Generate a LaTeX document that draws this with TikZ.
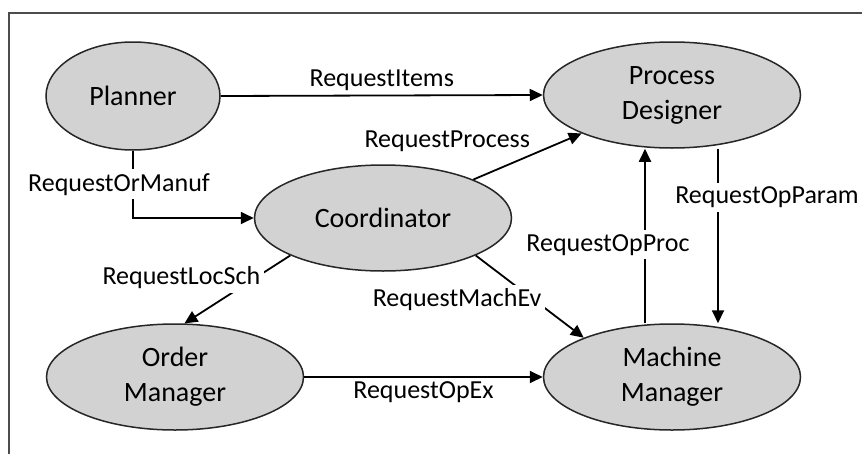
\documentclass[tikz,border=0pt]{standalone}
\usepackage{fontspec}
\setmainfont{Carlito}
\usetikzlibrary{arrows.meta,shapes.geometric}

\tikzset{
  agent/.style={ellipse, draw=black!85, fill=gray!35, line width=1.5pt,
    minimum width=257pt, minimum height=106pt, inner sep=0pt, align=center,
    font=\fontsize{28}{35}\selectfont},
  msg/.style={font=\fontsize{26}{30}\selectfont, inner sep=4pt},
  cut/.style={msg, fill=white},
  link/.style={line width=1.8pt, -{Triangle[length=13pt,width=12pt]}}
}

\begin{document}
\begin{tikzpicture}[x=1pt,y=-1pt]
        \useasboundingbox (0,0) rectangle (862,455);
        \draw[line width=1.6pt, black!70] (9,454) -- (9,13) -- (862,13);
        \node[agent, minimum width=174pt, minimum height=108pt] (planner) at (133,96) {Planner};
        \node[agent] (designer) at (672,95) {Process\\Designer};
        \node[agent] (coord) at (383,218) {Coordinator};
        \node[agent] (order) at (175,377) {Order\\Manager};
        \node[agent] (machine) at (672,377) {Machine\\Manager};
        \draw[link] (planner.east) -- (designer.west) node[msg, midway, above=0pt] {RequestItems};
        \draw[link] (planner.south) |- (coord.west) node[cut, pos=0.25, xshift=-14pt] {RequestOrManuf};
        \draw[link] (coord) -- (designer) node[msg, pos=0.55, above left=-2pt] {RequestProcess};
        \draw[link] ([xshift=46pt]designer.south) -- ([xshift=46pt]machine.north) node[cut, pos=0.28, xshift=49pt, inner xsep=1pt] {RequestOpParam};
        \draw[link] ([xshift=-27pt]machine.north) -- ([xshift=-27pt]designer.south) node[cut, pos=0.45, xshift=-37pt] {RequestOpProc};
        \draw[link] (coord.-22) -- (machine.156) node[cut, pos=0.54, xshift=-77pt] {RequestMachEv};
        \draw[link] (coord.202) -- (order.80) node[cut, pos=0.33, xshift=-74pt] {RequestLocSch};
        \draw[link] (order.east) -- (machine.west) node[msg, midway, below=0pt] {RequestOpEx};
\end{tikzpicture}
\end{document}
